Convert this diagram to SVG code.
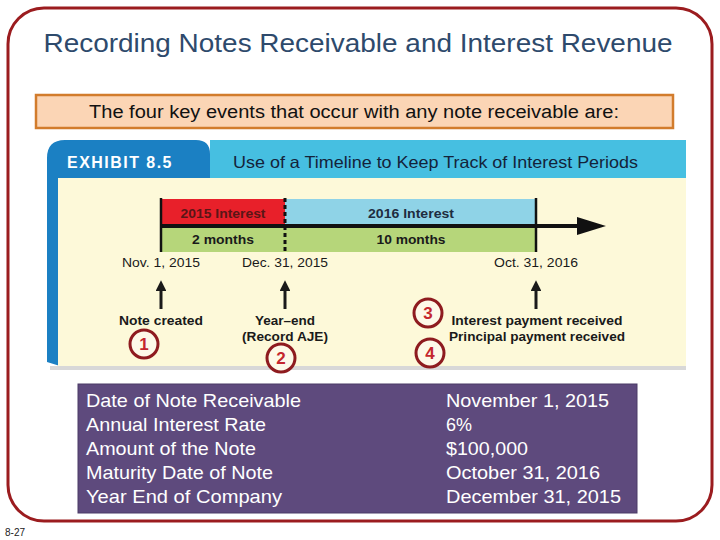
<svg xmlns="http://www.w3.org/2000/svg" width="720" height="540" viewBox="0 0 720 540">
<style>
.sans{font-family:"Liberation Sans",Arial,sans-serif}
.tl{font-family:"Liberation Sans",Arial,sans-serif;font-size:13.5px;fill:#1a1a1a}
.b{font-weight:bold}
.num{font-family:"Liberation Sans",Arial,sans-serif;font-weight:bold;font-size:17px;fill:#c4262e;text-anchor:middle}
.circ{fill:#fdf9e8;stroke:#8e1b1f;stroke-width:3}
.pt{font-family:"Liberation Sans",Arial,sans-serif;font-size:19px;fill:#ffffff}
</style>
<defs>
<marker id="head" viewBox="0 0 10 10" refX="0" refY="5" markerWidth="5" markerHeight="3.6" orient="auto" markerUnits="strokeWidth">
<path d="M0,0 L10,5 L0,10 Z" fill="#1a1a1a"/>
</marker>
</defs>
<rect width="720" height="540" fill="#ffffff"/>
<g id="frame">
<rect x="8" y="8" width="704" height="513" rx="36" ry="36" fill="none" stroke="#9b1c1f" stroke-width="3"/>
</g>
<g id="title">
<text x="358" y="52" text-anchor="middle" class="sans" font-size="26" fill="#2e4a6c" textLength="629" lengthAdjust="spacingAndGlyphs">Recording Notes Receivable and Interest Revenue</text>
</g>
<g id="banner">
<rect x="36" y="95" width="637" height="33" fill="#fbd5b5" stroke="#d27c2c" stroke-width="2.5"/>
<text x="354" y="118" text-anchor="middle" class="sans" font-size="18" fill="#111" textLength="530" lengthAdjust="spacingAndGlyphs">The four key events that occur with any note receivable are:</text>
</g>
<g id="exhibit">
<rect x="50" y="366" width="636" height="4" fill="#d8d8d8"/>
<path d="M47,362 L47,158 Q47,140 65,140 L196,140 Q210,140 210,154 L210,178 L58,178 L58,362 Z" fill="#1b80c3"/>
<path d="M47,340 L47,362 L60,366 L60,340 Z" fill="#1b80c3"/>
<rect x="210" y="140" width="476" height="38" fill="#46bfe1"/>
<rect x="58" y="178" width="628" height="188" fill="#fdf9d9"/>
<text x="67" y="168" class="sans b" font-size="16" fill="#ffffff" letter-spacing="1.5" textLength="106" lengthAdjust="spacingAndGlyphs">EXHIBIT 8.5</text>
<text x="233" y="168" class="sans" font-size="16.5" fill="#14233a" textLength="405" lengthAdjust="spacingAndGlyphs">Use of a Timeline to Keep Track of Interest Periods</text>
</g>
<g id="timeline">
<rect x="160" y="199" width="125" height="26" fill="#e8202a"/>
<rect x="285" y="199" width="251" height="26" fill="#8fd3e7"/>
<rect x="160" y="227" width="376" height="25" fill="#b6d67a"/>
<rect x="160" y="224" width="420" height="4" fill="#111"/>
<polygon points="577,217 606,226 577,235" fill="#111"/>
<line x1="161" y1="198" x2="161" y2="252" stroke="#111" stroke-width="2.5"/>
<line x1="536" y1="198" x2="536" y2="252" stroke="#111" stroke-width="2.5"/>
<line x1="285" y1="198" x2="285" y2="252" stroke="#111" stroke-width="3" stroke-dasharray="4,3"/>
<text x="223" y="218" text-anchor="middle" class="tl b" style="fill:#5a1616" textLength="85" lengthAdjust="spacingAndGlyphs">2015 Interest</text>
<text x="411" y="218" text-anchor="middle" class="tl b" style="fill:#1e2c40" textLength="86" lengthAdjust="spacingAndGlyphs">2016 Interest</text>
<text x="223" y="244" text-anchor="middle" class="tl b" textLength="62" lengthAdjust="spacingAndGlyphs">2 months</text>
<text x="411" y="244" text-anchor="middle" class="tl b" textLength="69" lengthAdjust="spacingAndGlyphs">10 months</text>
<text x="161" y="267" text-anchor="middle" class="tl" textLength="78" lengthAdjust="spacingAndGlyphs">Nov. 1, 2015</text>
<text x="285" y="267" text-anchor="middle" class="tl" textLength="86" lengthAdjust="spacingAndGlyphs">Dec. 31, 2015</text>
<text x="536" y="267" text-anchor="middle" class="tl" textLength="84" lengthAdjust="spacingAndGlyphs">Oct. 31, 2016</text>
</g>
<g id="connectors">
<line x1="161" y1="309" x2="161" y2="291" stroke="#1a1a1a" stroke-width="3" marker-end="url(#head)"/>
<line x1="285" y1="309" x2="285" y2="291" stroke="#1a1a1a" stroke-width="3" marker-end="url(#head)"/>
<line x1="536" y1="309" x2="536" y2="291" stroke="#1a1a1a" stroke-width="3" marker-end="url(#head)"/>
</g>
<g id="event1">
<text x="161" y="325" text-anchor="middle" class="tl b" textLength="84" lengthAdjust="spacingAndGlyphs">Note created</text>
<circle cx="144" cy="344" r="14" class="circ"/>
<text x="144" y="350" class="num">1</text>
</g>
<g id="event2">
<text x="285" y="325" text-anchor="middle" class="tl b" textLength="60" lengthAdjust="spacingAndGlyphs">Year–end</text>
<text x="285" y="341" text-anchor="middle" class="tl b" textLength="86" lengthAdjust="spacingAndGlyphs">(Record AJE)</text>
<circle cx="281" cy="358" r="14" class="circ"/>
<text x="281" y="364" class="num">2</text>
</g>
<g id="event3">
<text x="537" y="325" text-anchor="middle" class="tl b" textLength="171" lengthAdjust="spacingAndGlyphs">Interest payment received</text>
<circle cx="428" cy="313" r="14" class="circ"/>
<text x="428" y="319" class="num">3</text>
</g>
<g id="event4">
<text x="537" y="341" text-anchor="middle" class="tl b" textLength="176" lengthAdjust="spacingAndGlyphs">Principal payment received</text>
<circle cx="430" cy="353" r="14" class="circ"/>
<text x="430" y="359" class="num">4</text>
</g>
<g id="facts">
<rect x="78" y="384" width="559" height="129" fill="#5e4a7d" stroke="#4a3a66" stroke-width="1"/>
<text x="86" y="407" class="pt" textLength="215" lengthAdjust="spacingAndGlyphs">Date of Note Receivable</text>
<text x="86" y="431" class="pt" textLength="180" lengthAdjust="spacingAndGlyphs">Annual Interest Rate</text>
<text x="86" y="455" class="pt" textLength="170" lengthAdjust="spacingAndGlyphs">Amount of the Note</text>
<text x="86" y="479" class="pt" textLength="187" lengthAdjust="spacingAndGlyphs">Maturity Date of Note</text>
<text x="86" y="503" class="pt" textLength="196" lengthAdjust="spacingAndGlyphs">Year End of Company</text>
<text x="446" y="407" class="pt" textLength="163" lengthAdjust="spacingAndGlyphs">November 1, 2015</text>
<text x="446" y="431" class="pt" textLength="26" lengthAdjust="spacingAndGlyphs">6%</text>
<text x="446" y="455" class="pt" textLength="82" lengthAdjust="spacingAndGlyphs">$100,000</text>
<text x="446" y="479" class="pt" textLength="154" lengthAdjust="spacingAndGlyphs">October 31, 2016</text>
<text x="446" y="503" class="pt" textLength="175" lengthAdjust="spacingAndGlyphs">December 31, 2015</text>
</g>
<g id="pagenum">
<text x="5" y="536" class="sans" font-size="10" fill="#222">8-27</text>
</g>
</svg>
